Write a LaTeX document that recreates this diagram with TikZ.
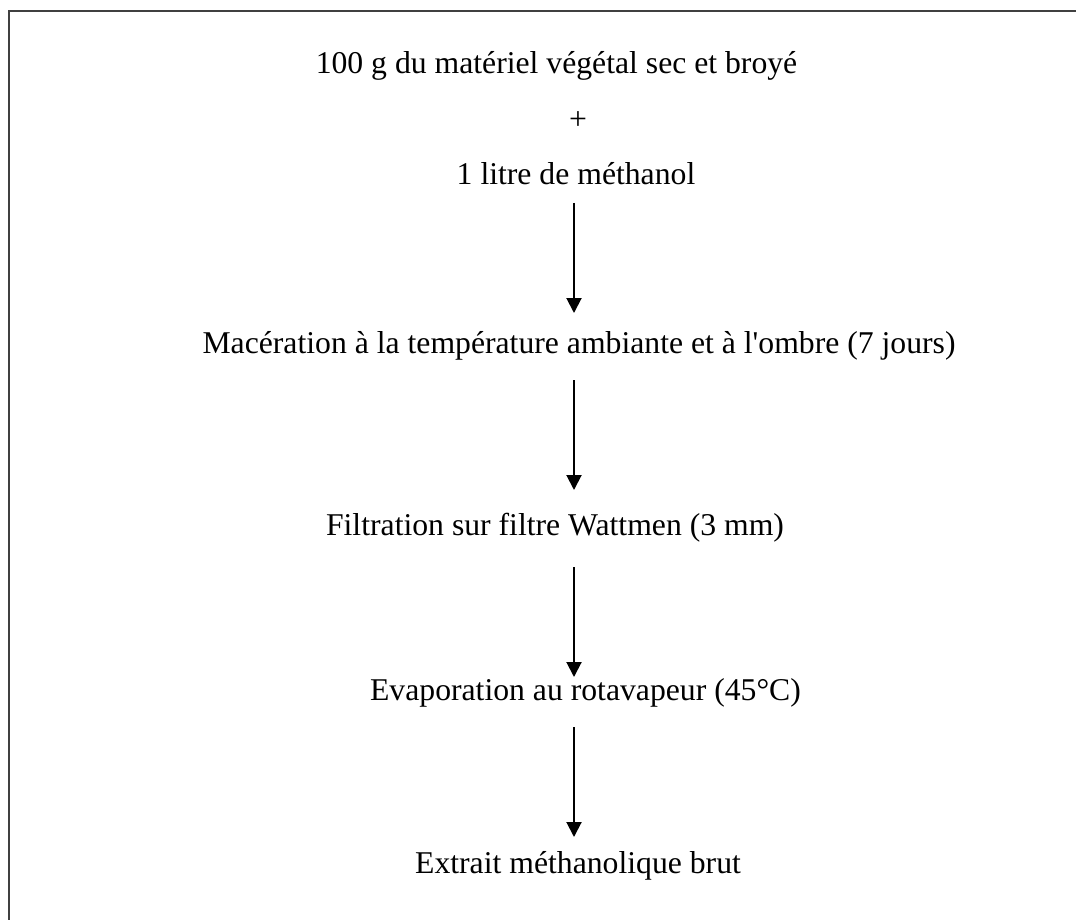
\documentclass[tikz,border=0pt]{standalone}
\usepackage{fontspec}
\setmainfont[Ligatures=TeXReset]{Liberation Serif}
\usetikzlibrary{arrows.meta}
\tikzset{
  txt/.style={anchor=base, inner sep=0pt, font=\fontsize{31.7}{38}\selectfont},
  arr/.style={line width=2pt, -{Triangle[width=15pt,length=15pt]}},
  frame/.style={line width=2pt, draw={rgb,255:red,64;green,64;blue,64}}
}
\begin{document}
\begin{tikzpicture}[x=1pt,y=-1pt]
\useasboundingbox (0,0) rectangle (1076,920);
\clip (0,0) rectangle (1076,920);
\fill[white] (0,0) rectangle (1076,920);
\draw[frame] (9,960) -- (9,11) -- (1120,11);
\node[txt] (l1) at (556.5,74) {100 g du matériel végétal sec et broyé};
\node[txt] (plus) at (578,130) {+};
\node[txt] (l3) at (576,185) {1 litre de méthanol};
\node[txt] (mac) at (579,353) {Macération à la température ambiante et à l'ombre (7 jours)};
\node[txt] (fil) at (555,535) {Filtration sur filtre Wattmen (3 mm)};
\node[txt] (eva) at (585.5,700) {Evaporation au rotavapeur (45°C)};
\node[txt] (ext) at (578,873) {Extrait méthanolique brut};
\coordinate (a1s) at (574,203); \coordinate (a1e) at (574,313);
\coordinate (a2s) at (574,380); \coordinate (a2e) at (574,490);
\coordinate (a3s) at (574,567); \coordinate (a3e) at (574,677);
\coordinate (a4s) at (574,727); \coordinate (a4e) at (574,837);
\draw[arr] (a1s) -- (a1e);
\draw[arr] (a2s) -- (a2e);
\draw[arr] (a3s) -- (a3e);
\draw[arr] (a4s) -- (a4e);
\end{tikzpicture}
\end{document}
